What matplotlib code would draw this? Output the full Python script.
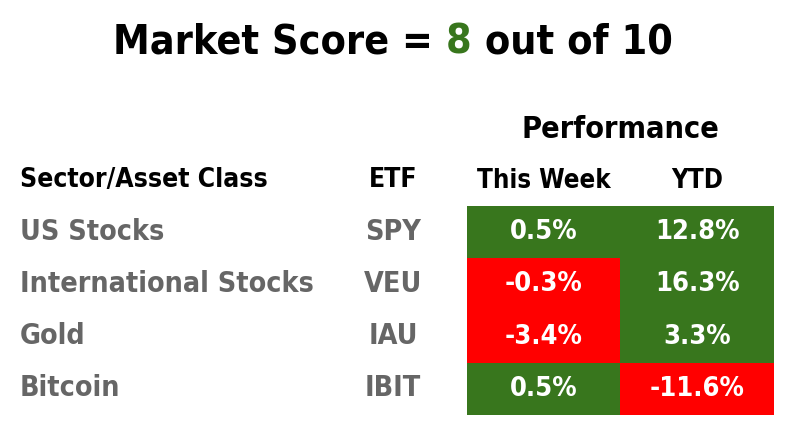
import numpy as np
import matplotlib
matplotlib.use("Agg")
import matplotlib.pyplot as plt
from matplotlib import font_manager
from matplotlib.colors import ListedColormap

# chart data
score = 8
score_max = 10
assets = ["US Stocks", "International Stocks", "Gold", "Bitcoin"]
etfs = ["SPY", "VEU", "IAU", "IBIT"]
periods = ["This Week", "YTD"]
week_perf = [0.5, -0.3, -3.4, 0.5]
ytd_perf = [12.8, 16.3, 3.3, -11.6]

GREEN = "#38761d"
RED = "#ff0000"
GRAY = "#666666"

# pick a narrow bold face if one is around
names = {f.name for f in font_manager.fontManager.ttflist}
if "Liberation Sans Narrow" in names:
    FONT = dict(family="Liberation Sans Narrow", weight="bold")
else:
    FONT = dict(family="DejaVu Sans", weight="bold", stretch="condensed")

W, H = 786, 428
fig = plt.figure(figsize=(W / 100, H / 100), dpi=100)


def fx(x):
    return x / W


def fy(y):
    return 1 - y / H


# title in three colour pieces
fig.canvas.draw()
renderer = fig.canvas.get_renderer()
parts = [("Market Score = ", "black"), (str(score), GREEN), (f" out of {score_max}", "black")]
texts = [fig.text(0, fy(42), s, color=c, fontsize=29.5, va="center", ha="left", **FONT) for s, c in parts]
widths = [t.get_window_extent(renderer).width for t in texts]
x = (W - sum(widths)) / 2
for t, w in zip(texts, widths):
    t.set_x(fx(x))
    x += w

# headers
fig.text(fx(620), fy(130), "Performance", fontsize=22, ha="center", va="center", **FONT)
fig.text(fx(20), fy(180), "Sector/Asset Class", fontsize=19, ha="left", va="center", **FONT)
fig.text(fx(393), fy(180), "ETF", fontsize=19, ha="center", va="center", **FONT)

# row labels
row_y = [232, 284, 336, 388]
for name, etf, y in zip(assets, etfs, row_y):
    fig.text(fx(20), fy(y), name, fontsize=20.5, color=GRAY, ha="left", va="center", **FONT)
    fig.text(fx(393), fy(y), etf, fontsize=20.5, color=GRAY, ha="center", va="center", **FONT)

# performance cells
perf = np.array([week_perf, ytd_perf]).T
ax = fig.add_axes([fx(467), fy(415), fx(774) - fx(467), (415 - 206) / H])
ax.imshow(perf >= 0, cmap=ListedColormap([RED, GREEN]), vmin=0, vmax=1, aspect="auto")
for i in range(perf.shape[0]):
    for j in range(perf.shape[1]):
        ax.text(j, i, f"{perf[i, j]:.1f}%", color="white", fontsize=19.5,
                ha="center", va="center", **FONT)
ax.set_xticks(range(len(periods)))
ax.set_xticklabels(periods, fontsize=18.5, **FONT)
ax.xaxis.tick_top()
ax.tick_params(axis="x", length=0, pad=9)
ax.set_yticks([])
for s in ax.spines.values():
    s.set_visible(False)

fig.savefig("out.png", dpi=100)
